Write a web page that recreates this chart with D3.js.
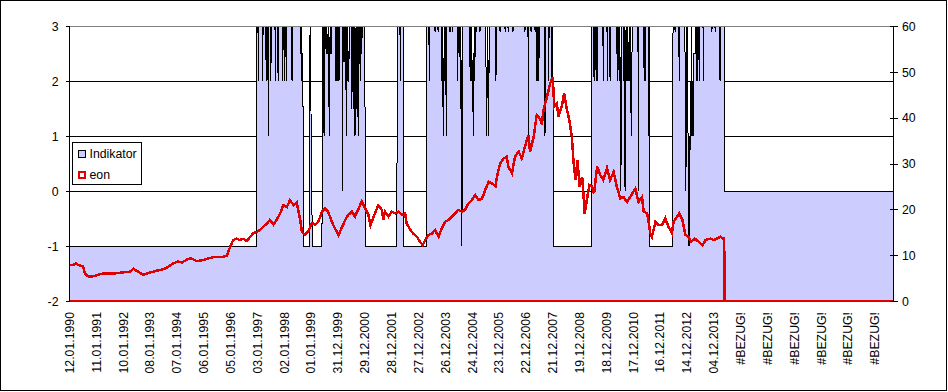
<!DOCTYPE html>
<html>
<head>
<meta charset="utf-8">
<script src="https://cdn.jsdelivr.net/npm/d3@7/dist/d3.min.js"></script>
<style>
    html, body { margin: 0; padding: 0; background: #fff; }
    svg { display: block; }
    text { font-family: "Liberation Sans", Arial, sans-serif; font-size: 12.3px; fill: #000; }
</style>
</head>
<body>
<svg id="stage" width="948" height="392"></svg>
<script>
// weekly categories, one label every 52 weeks
var week_count = 1597;
var label_step = 52;
var tick_labels = [
    '12.01.1990', '11.01.1991', '10.01.1992', '08.01.1993', '07.01.1994', '06.01.1995',
    '05.01.1996', '03.01.1997', '02.01.1998', '01.01.1999', '31.12.1999', '29.12.2000',
    '28.12.2001', '27.12.2002', '26.12.2003', '24.12.2004', '23.12.2005', '22.12.2006',
    '21.12.2007', '19.12.2008', '18.12.2009', '17.12.2010', '16.12.2011', '14.12.2012',
    '04.12.2013', '#BEZUG!', '#BEZUG!', '#BEZUG!', '#BEZUG!', '#BEZUG!', '#BEZUG!'
];
var left_ticks = [-2, -1, 0, 1, 2, 3];
var right_ticks = [0, 10, 20, 30, 40, 50, 60];
var series_names = ['Indikator', 'eon'];

// Indikator: [first week, value] - value holds until the next entry
var indikator_runs = [
    [0, -1], [363, 3], [366, 2], [367, 3], [374, 2], [375, 3], [381, 2], [382, 3], [385, 1], [386, 3],
    [390, 2], [391, 3], [399, 2], [400, 3], [404, 2], [405, 3], [413, 2], [414, 3], [417, 2], [418, 3],
    [420, 2], [421, 3], [431, 2], [432, 3], [448, 2.5], [449, 3], [450, 2], [451, 2.5], [453, -1],
    [465, 2], [466, 3], [468, 1], [470, -1],
    [490, 2.5], [491, 3], [493, 1], [494, 3], [497, 2.5], [498, 3], [499, 2.5], [501, 3], [502, 2.5],
    [503, 1], [504, 2.5], [505, 3], [506, 2.5], [508, 3], [516, 2], [517, 3], [518, 2], [519, 3],
    [520, 2], [521, 3], [522, 2], [523, 3], [529, 0], [530, 3], [534, 2], [535, 3], [536, 1], [537, 3],
    [538, 2], [539, 3], [540, 2], [542, 3], [547, 1.5], [548, 3], [549, 2], [550, 1.5], [551, 3],
    [553, 1], [554, 2], [555, 3], [556, 1.5], [557, 2], [558, 3], [559, 1], [560, 3], [563, 2], [564, 3],
    [566, 2.5], [567, 3], [573, -1],
    [635, 3], [641, 2], [642, 3], [647, -1],
    [692, 3], [697, 2], [698, 3], [708, 2.9], [709, 3], [714, 2.9], [715, 3], [721, 2], [722, 3],
    [723, 2], [724, 1], [725, 2], [726, 3], [727, 2], [728, 3], [729, 2], [730, 1], [731, 3],
    [737, 2.9], [738, 3], [742, 2.9], [743, 3], [752, 2], [753, 3], [757, 1.5], [758, 3], [759, 1],
    [760, -1], [761, 1.5], [762, 3], [776, 2], [777, 3], [778, 2], [779, 3], [780, 2], [782, 1],
    [783, 2], [784, 3], [785, 2], [786, 3], [788, 2.9], [789, 3], [795, 2.9], [796, 3], [807, 2],
    [808, 1], [809, 2], [810, 3], [811, 2], [812, 1], [813, 3], [826, 2], [827, 3], [834, 2.9],
    [835, 3], [844, 2.9], [845, 3], [850, 2.9], [851, 3], [859, 2.9], [860, 3], [882, 2.9], [883, 3],
    [889, 1], [890, 3], [894, 2.9], [895, 3], [902, 2.9], [903, 3], [905, 2], [906, 3], [907, 2],
    [908, 3], [909, 2], [910, 3], [921, 1], [922, 3], [928, 2], [929, 3], [934, 2], [935, 3],
    [936, 2], [938, -1],
    [1012, 3], [1016, 2], [1017, 3], [1020, 2], [1021, 3], [1022, 2], [1023, 3], [1034, 2], [1035, 3],
    [1042, 2], [1043, 3], [1047, 2], [1048, 3], [1060, 2.5], [1061, 3], [1062, 2], [1063, 2.5],
    [1064, 3], [1065, 2], [1066, 3], [1067, 1], [1068, 0], [1069, 2], [1070, 3], [1074, 2], [1075, 3],
    [1076, 0], [1077, 2], [1078, 3], [1079, 2], [1080, 3], [1081, 2], [1082, 2.5], [1083, 2], [1084, 3],
    [1085, 2], [1086, 3], [1087, 2], [1088, 1], [1089, 2], [1090, 3], [1102, 0], [1103, 3], [1113, 2],
    [1114, 3], [1115, 2], [1116, 3], [1122, 1], [1123, 3], [1124, -1],
    [1169, 3], [1173, 2.9], [1174, 3], [1181, 2], [1182, 3], [1193, 0.5], [1194, 0], [1195, 3],
    [1196, 1], [1197, 3], [1198, 1], [1199, -1], [1200, 1], [1201, -1], [1202, 1], [1203, 2], [1204, 1],
    [1205, 3], [1206, 1], [1207, 2], [1208, 1], [1209, 2.5], [1213, 3], [1215, 2], [1216, 3], [1217, 2],
    [1218, 3], [1220, 2], [1221, 3], [1228, 2], [1229, 3], [1244, 2.9], [1245, 3], [1251, 2.9],
    [1252, 3], [1260, 2], [1261, 3],
    [1269, 0]
];

// eon price: [week, value]
var eon_points = [
    [0, 7.8], [8, 7.9], [12, 8.2], [18, 7.8], [26, 7.6], [30, 6.0], [36, 5.4], [45, 5.4], [53, 5.6],
    [59, 5.9], [70, 6.0], [85, 6.0], [100, 6.2], [117, 6.4], [124, 7.0], [133, 6.4], [143, 5.7],
    [150, 6.0], [165, 6.5], [180, 6.9], [188, 7.2], [201, 8.2], [210, 8.6], [218, 8.4], [227, 9.0],
    [235, 9.3], [247, 8.7], [257, 8.9], [266, 9.2], [279, 9.6], [295, 9.6], [305, 9.9], [311, 11.8],
    [317, 13.3], [324, 13.6], [330, 13.3], [336, 13.6], [343, 13.1], [350, 14.0], [356, 14.8],
    [363, 15.1], [369, 15.5], [375, 16.2], [382, 16.8], [388, 17.7], [395, 16.7], [401, 17.7],
    [408, 19.1], [414, 20.9], [421, 20.5], [427, 22], [434, 20.9], [440, 21.5], [447, 17.7],
    [450, 15.1], [456, 14.4], [463, 15.3], [469, 17], [476, 16.7], [482, 17.3], [489, 19.5],
    [495, 20.2], [501, 19.5], [508, 17.3], [514, 15.9], [521, 14.4], [527, 15.9], [534, 17.7],
    [540, 18.8], [547, 19.5], [553, 18.4], [560, 20.2], [566, 21.7], [573, 20.2], [579, 18.8],
    [583, 16.5], [589, 18.4], [598, 20.9], [605, 19.9], [608, 17.7], [611, 19.5], [618, 18.4],
    [624, 19.5], [631, 19.1], [637, 19.5], [644, 18.8], [650, 19.1], [653, 17], [660, 15.5],
    [666, 14.7], [673, 14], [679, 12.9], [684, 12.2], [689, 13.3], [695, 14.4], [702, 14.7],
    [708, 15.5], [715, 14], [721, 15.9], [728, 17.3], [734, 17.7], [741, 18.4], [747, 19.1],
    [753, 19.9], [760, 19.5], [766, 19.9], [773, 21.3], [779, 22], [786, 23.1], [792, 22],
    [799, 22.3], [805, 24.2], [812, 26], [818, 25.7], [825, 25], [828, 27.1], [834, 30], [841, 31.1],
    [847, 31.5], [850, 29.3], [857, 27.9], [863, 31.5], [870, 32.6], [876, 31.1], [883, 34],
    [889, 36.2], [892, 32.6], [899, 35.8], [905, 40.6], [912, 39.6], [915, 38.5], [918, 41.7],
    [925, 44.6], [931, 47.5], [936, 48.9], [939, 42.4], [944, 43.1], [947, 40.2], [954, 42.8],
    [958, 45.3], [963, 42], [968, 39.5], [973, 35.9], [976, 30.8], [980, 26.4], [984, 30.8],
    [988, 24.9], [993, 27.1], [998, 19.1], [1002, 22], [1007, 25.3], [1012, 25], [1016, 23.5],
    [1022, 29.3], [1028, 27.5], [1034, 26.4], [1041, 29], [1047, 26.4], [1054, 28.2], [1060, 24.9],
    [1067, 22.4], [1073, 22.7], [1080, 21.6], [1086, 22.7], [1096, 24.5], [1102, 21.6], [1109, 22.7],
    [1112, 19.5], [1119, 19.1], [1125, 14.8], [1128, 14], [1135, 17.3], [1141, 16.6], [1148, 16.6],
    [1154, 18], [1160, 16.2], [1167, 14.8], [1170, 17.3], [1177, 18.4], [1181, 19.1], [1187, 17.7],
    [1193, 14.4], [1199, 14], [1204, 12.9], [1211, 13.6], [1219, 12.9], [1226, 12.2], [1232, 13.3],
    [1241, 13.6], [1248, 13.3], [1254, 13.6], [1261, 14], [1265, 13.6], [1268, 13.6],
    [1269, 0]
];

var plot = {left: 69.5, right: 893.5, top: 26, bottom: 301};
var svg = d3.select('#stage');

var x = d3.scaleLinear().domain([0, week_count - 1]).range([plot.left, plot.right]);
var y_left = d3.scaleLinear().domain([-2, 3]).range([plot.bottom, plot.top]);
var y_right = d3.scaleLinear().domain([0, 60]).range([plot.bottom, plot.top]);

// chart frame
svg.append('rect')
    .attr('x', 0.5).attr('y', 0.5).attr('width', 946).attr('height', 390)
    .attr('fill', '#fff').attr('stroke', '#000').attr('shape-rendering', 'crispEdges');

// gridlines (behind the series)
svg.append('g').selectAll('line')
    .data(left_ticks.filter(function (d) { return d > -2 && d < 3; }))
    .enter().append('line')
    .attr('x1', plot.left).attr('x2', plot.right)
    .attr('y1', function (d) { return y_left(d) + 0.5; })
    .attr('y2', function (d) { return y_left(d) + 0.5; })
    .attr('stroke', '#000').attr('shape-rendering', 'crispEdges');

// expand the runs into one value per week
var indikator = [];
indikator_runs.forEach(function (run, k) {
    var end = k + 1 < indikator_runs.length ? indikator_runs[k + 1][0] : week_count;
    for (var w = run[0]; w < end; w++) {
        indikator.push([w, run[1]]);
    }
});

var indikator_area = d3.area()
    .x(function (d) { return x(d[0]); })
    .y0(y_left(-2))
    .y1(function (d) { return y_left(d[1]); });

svg.append('path')
    .datum(indikator)
    .attr('d', indikator_area)
    .attr('fill', '#ccccff')
    .attr('stroke', '#000')
    .attr('stroke-width', 1)
    .attr('shape-rendering', 'crispEdges');

// eon is an unfilled area on the right axis: outline runs back along zero
var eon_outline = eon_points.concat([[week_count - 1, 0], [0, 0]]);
var eon_line = d3.line()
    .x(function (d) { return x(d[0]); })
    .y(function (d) { return y_right(d[1]); });

svg.append('path')
    .datum(eon_outline)
    .attr('d', eon_line)
    .attr('fill', 'none')
    .attr('stroke', '#e00000')
    .attr('stroke-width', 2.5)
    .attr('stroke-linejoin', 'miter')
    .attr('shape-rendering', 'crispEdges');

// plot area border on top
svg.append('line')
    .attr('x1', plot.left).attr('x2', plot.right)
    .attr('y1', plot.top + 0.5).attr('y2', plot.top + 0.5)
    .attr('stroke', '#808080').attr('shape-rendering', 'crispEdges');

// left axis
var left_axis = svg.append('g').attr('shape-rendering', 'crispEdges');
left_axis.append('line')
    .attr('x1', plot.left).attr('x2', plot.left)
    .attr('y1', plot.top).attr('y2', plot.bottom + 1)
    .attr('stroke', '#000');
left_axis.selectAll('line.tick')
    .data(left_ticks).enter().append('line')
    .attr('class', 'tick')
    .attr('x1', plot.left - 4).attr('x2', plot.left)
    .attr('y1', function (d) { return y_left(d) + 0.5; })
    .attr('y2', function (d) { return y_left(d) + 0.5; })
    .attr('stroke', '#000');
left_axis.selectAll('text')
    .data(left_ticks).enter().append('text')
    .attr('x', 58.5)
    .attr('y', function (d) { return y_left(d) + 0.5; })
    .attr('dy', '0.35em')
    .attr('text-anchor', 'end')
    .text(function (d) { return d; });

// right axis
var right_axis = svg.append('g').attr('shape-rendering', 'crispEdges');
right_axis.append('line')
    .attr('x1', plot.right).attr('x2', plot.right)
    .attr('y1', plot.top).attr('y2', plot.bottom + 1)
    .attr('stroke', '#000');
right_axis.selectAll('line.tick')
    .data(right_ticks).enter().append('line')
    .attr('class', 'tick')
    .attr('x1', plot.right - 4).attr('x2', plot.right + 4)
    .attr('y1', function (d) { return y_right(d) + 0.5; })
    .attr('y2', function (d) { return y_right(d) + 0.5; })
    .attr('stroke', '#000');
right_axis.selectAll('text')
    .data(right_ticks).enter().append('text')
    .attr('x', 902)
    .attr('y', function (d) { return y_right(d) + 0.5; })
    .attr('dy', '0.35em')
    .text(function (d) { return d; });

// category labels, rotated
svg.append('g').selectAll('text')
    .data(tick_labels).enter().append('text')
    .attr('transform', function (d, i) {
        return 'translate(' + x(i * label_step) + ',312) rotate(-90)';
    })
    .attr('dy', '0.35em')
    .attr('text-anchor', 'end')
    .text(function (d) { return d; });

// legend
var legend = svg.append('g').attr('shape-rendering', 'crispEdges');
legend.append('rect')
    .attr('x', 72.5).attr('y', 142.5).attr('width', 69).attr('height', 42)
    .attr('fill', '#fff').attr('stroke', '#000');
legend.append('rect')
    .attr('x', 78.5).attr('y', 150.5).attr('width', 7).attr('height', 7)
    .attr('fill', '#ccccff').attr('stroke', '#000');
legend.append('rect')
    .attr('x', 79).attr('y', 172).attr('width', 6).attr('height', 6)
    .attr('fill', '#fff').attr('stroke', '#e00000').attr('stroke-width', 2);
legend.selectAll('text')
    .data(series_names).enter().append('text')
    .attr('x', 89.5)
    .attr('y', function (d, i) { return 158 + i * 20.5; })
    .text(function (d) { return d; });
</script>
</body>
</html>
